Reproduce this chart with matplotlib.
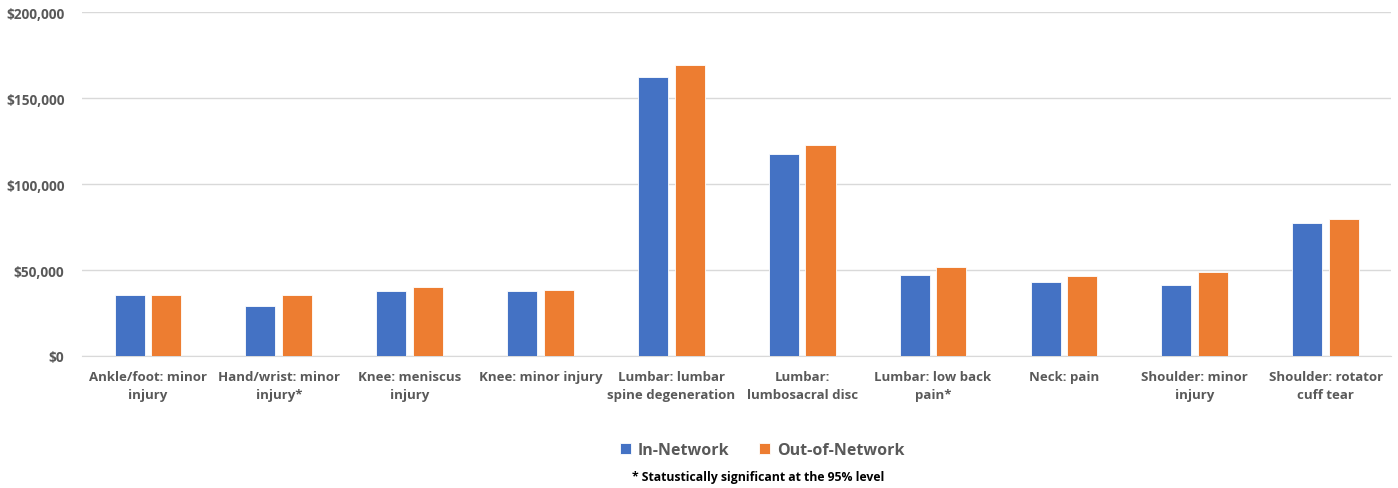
import numpy as np
import matplotlib.pyplot as plt
from matplotlib.ticker import FuncFormatter

# average cost per episode by condition
categories = ['Ankle/foot: minor\ninjury', 'Hand/wrist: minor\ninjury*',
              'Knee: meniscus\ninjury', 'Knee: minor injury',
              'Lumbar: lumbar\nspine degeneration', 'Lumbar:\nlumbosacral disc',
              'Lumbar: low back\npain*', 'Neck: pain',
              'Shoulder: minor\ninjury', 'Shoulder: rotator\ncuff tear']
in_network = [35500, 29200, 37800, 37600, 162400, 117300, 46900, 43200, 41400, 77500]
out_network = [35300, 35200, 39900, 38300, 169200, 122700, 51600, 46500, 49000, 79500]
yticks = [0, 50000, 100000, 150000, 200000]

plt.rcParams['font.family'] = ['Open Sans', 'DejaVu Sans']
grey = '#595959'

fig = plt.figure(figsize=(13.98, 4.89), dpi=100)
ax = fig.add_axes([0.059, 0.27, 0.936, 0.703])

x = np.arange(len(categories))
w = 0.23
ax.bar(x - 0.14, in_network, w, color='#4472C4', edgecolor='white', linewidth=0.6,
       label='In-Network', zorder=3)
ax.bar(x + 0.14, out_network, w, color='#ED7D31', edgecolor='white', linewidth=0.6,
       label='Out-of-Network', zorder=3)

ax.set_xlim(-0.5, len(categories) - 0.5)
ax.set_ylim(0, 200000)
ax.set_yticks(yticks)
ax.yaxis.set_major_formatter(FuncFormatter(lambda v, p: '${:,.0f}'.format(v)))
ax.set_xticks(x)
ax.set_xticklabels(categories, fontsize=9.5, fontweight='bold', color=grey,
                   linespacing=1.55)
ax.tick_params(axis='y', labelsize=9.8, labelcolor=grey, length=0, pad=13)
ax.tick_params(axis='x', length=0, pad=10)
for lbl in ax.get_yticklabels():
    lbl.set_fontweight('bold')

ax.grid(axis='y', color='#D9D9D9', linewidth=1, zorder=0)
for s in ['top', 'right', 'left']:
    ax.spines[s].set_visible(False)
ax.spines['bottom'].set_color('#D9D9D9')

leg = fig.legend(loc='center', bbox_to_anchor=(0.545, 0.078), ncol=2, frameon=False,
                 handlelength=0.7, handleheight=0.7, columnspacing=1.9,
                 handletextpad=0.4, prop={'size': 11.5, 'weight': 'bold'})
for t in leg.get_texts():
    t.set_color(grey)

fig.text(0.542, 0.024, '* Statustically significant at the 95% level', ha='center',
         va='center', fontsize=8.8, fontweight='bold', color='black')

fig.savefig('out.png', dpi=100)
